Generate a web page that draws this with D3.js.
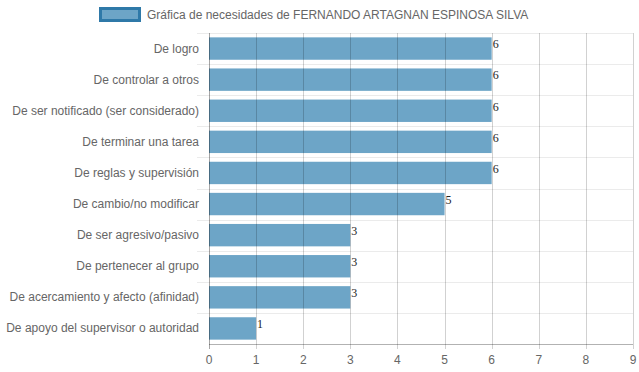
<!DOCTYPE html>
<html><head><meta charset="utf-8">
<script src="https://cdn.jsdelivr.net/npm/d3@7"></script>
<style>body{margin:0;background:#fff}svg{display:block}</style>
</head><body>
<svg id="c" width="639" height="372"></svg>
<script>
const categories = ["De logro","De controlar a otros","De ser notificado (ser considerado)","De terminar una tarea","De reglas y supervisión","De cambio/no modificar","De ser agresivo/pasivo","De pertenecer al grupo","De acercamiento y afecto (afinidad)","De apoyo del supervisor o autoridad"];
const values = [6,6,6,6,6,5,3,3,3,1];
const xTicks = [0,1,2,3,4,5,6,7,8,9];
const seriesName = "Gráfica de necesidades de FERNANDO ARTAGNAN ESPINOSA SILVA";

const svg = d3.select("#c");
const L = 209, R = 633, T = 33, B = 344;
const x = d3.scaleLinear().domain([0,9]).range([L,R]);
const y = d3.scaleBand().domain(categories).range([T,B]).paddingInner(0.28).paddingOuter(0.14);
const yb = d3.scaleBand().domain(categories).range([T,B]);
const font = "'Liberation Sans', Arial, sans-serif";

// horizontal grid lines (category boundaries)
const hb = categories.map(c=>yb(c)).concat([B]);
svg.append("g").selectAll("line").data(hb.slice(0,-1)).join("line")
  .attr("x1",L-12).attr("x2",R).attr("y1",d=>Math.round(d)+0.5).attr("y2",d=>Math.round(d)+0.5)
  .attr("stroke","#ebebeb").attr("stroke-width",1);

// bars
svg.append("g").selectAll("rect").data(values).join("rect")
  .attr("x",x(0)).attr("y",(d,i)=>y(categories[i]))
  .attr("width",d=>x(d)-x(0)).attr("height",y.bandwidth())
  .attr("fill","rgba(60,135,180,0.75)");

// vertical grid lines
svg.append("g").selectAll("line").data(xTicks).join("line")
  .attr("x1",d=>Math.round(x(d))+0.5).attr("x2",d=>Math.round(x(d))+0.5)
  .attr("y1",T).attr("y2",B+5)
  .attr("stroke",d=>d===0?"rgba(0,0,0,0.35)":"rgba(0,0,0,0.18)").attr("stroke-width",1);

// x axis line
svg.append("line").attr("x1",L).attr("x2",R).attr("y1",B+0.5).attr("y2",B+0.5)
  .attr("stroke","rgba(0,0,0,0.3)");

// x tick labels
svg.append("g").selectAll("text").data(xTicks).join("text")
  .attr("x",d=>x(d)).attr("y",B+20).attr("text-anchor","middle")
  .attr("font-family",font).attr("font-size",12).attr("fill","#666").text(d=>d);

// y labels
svg.append("g").selectAll("text").data(categories).join("text")
  .attr("x",L-10).attr("y",d=>yb(d)+yb.bandwidth()/2+4).attr("text-anchor","end")
  .attr("font-family",font).attr("font-size",12).attr("fill","#666").text(d=>d);

// value labels
svg.append("g").selectAll("text").data(values).join("text")
  .attr("x",d=>x(d)+1).attr("y",(d,i)=>y(categories[i])+11)
  .attr("font-family","'Liberation Serif','DejaVu Serif',serif").attr("font-size",12).attr("fill","#222").text(d=>d);

// legend
svg.append("rect").attr("x",100.5).attr("y",8.5).attr("width",39).attr("height",12)
  .attr("fill","rgba(60,135,180,0.75)").attr("stroke","#2f79a8").attr("stroke-width",3);
svg.append("text").attr("x",147).attr("y",19).attr("font-family",font).attr("font-size",12)
  .attr("fill","#666").text(seriesName);
</script>
</body></html>
